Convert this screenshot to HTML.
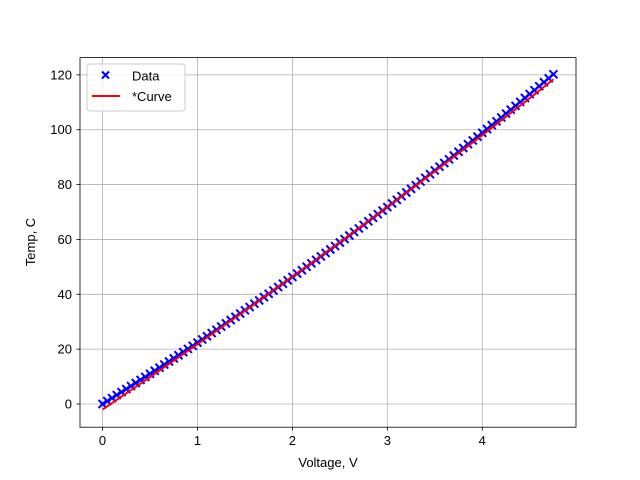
<!DOCTYPE html>
<html><head><meta charset="utf-8"><style>
body{margin:0;background:#fff}
svg{display:block;font-family:"Liberation Sans","DejaVu Sans",sans-serif}
</style></head><body>
<svg id="chart" width="640" height="480" viewBox="0 0 640 480">
<rect width="640" height="480" fill="#fff"/>
<g id="grid"></g>
<g id="series"></g>
<rect x="80" y="57.6" width="496" height="369.6" fill="none" stroke="#000" stroke-width="0.8"/>
<g id="ticks"></g>
<text x="328" y="467" font-size="13" text-anchor="middle">Voltage, V</text>
<text x="35" y="242" font-size="13" text-anchor="middle" transform="rotate(-90 35 242)">Temp, C</text>
<g>
<rect x="87" y="64" width="98" height="47" rx="3" fill="#fff" fill-opacity="0.8" stroke="#ccc" stroke-width="1"/>
<g>
<path d="M102 71.5l7 7M109 71.5l-7 7" stroke="#00f" stroke-width="2"/>
<text x="132" y="80.5" font-size="13">Data</text>
</g>
<g>
<line x1="92" y1="96" x2="120" y2="96" stroke="#f00" stroke-width="2"/>
<text x="132" y="101" font-size="13">*Curve</text>
</g>
</g>
</svg>
<script>
const dataX=[0,0.05,0.1,0.15,0.2,0.25,0.3,0.35,0.4,0.45,0.5,0.55,0.6,0.65,0.7,0.75,0.8,0.85,0.9,0.95,1,1.05,1.1,1.15,1.2,1.25,1.3,1.35,1.4,1.45,1.5,1.55,1.6,1.65,1.7,1.75,1.8,1.85,1.9,1.95,2,2.05,2.1,2.15,2.2,2.25,2.3,2.35,2.4,2.45,2.5,2.55,2.6,2.65,2.7,2.75,2.8,2.85,2.9,2.95,3,3.05,3.1,3.15,3.2,3.25,3.3,3.35,3.4,3.45,3.5,3.55,3.6,3.65,3.7,3.75,3.8,3.85,3.9,3.95,4,4.05,4.1,4.15,4.2,4.25,4.3,4.35,4.4,4.45,4.5,4.55,4.6,4.65,4.7,4.75];
const dataY=[0,1.08,2.17,3.26,4.35,5.45,6.55,7.66,8.77,9.88,11.0,12.12,13.24,14.37,15.5,16.64,17.78,18.92,20.07,21.22,22.38,23.54,24.7,25.87,27.04,28.22,29.4,30.58,31.77,32.96,34.16,35.35,36.56,37.76,38.97,40.19,41.41,42.63,43.86,45.09,46.32,47.56,48.8,50.05,51.3,52.55,53.81,55.07,56.33,57.6,58.88,60.15,61.43,62.72,64.01,65.3,66.6,67.9,69.2,70.51,71.82,73.14,74.46,75.78,77.11,78.44,79.77,81.11,82.46,83.8,85.16,86.51,87.87,89.23,90.6,91.97,93.34,94.72,96.1,97.49,98.88,100.27,101.67,103.07,104.48,105.89,107.3,108.72,110.14,111.57,113,114.43,115.87,117.31,118.75,120.2];
const curveX=[0,0.5,1,1.5,2,2.5,3,3.5,4,4.5,4.75];
const curveY=[-2,9.8,21.8,34.0,46.4,59.0,71.8,84.8,98.0,111.5,118.4];
const xTicks=[0,1,2,3,4];
const yTicks=[0,20,40,60,80,100,120];
const NS="http://www.w3.org/2000/svg";
const xmin=-0.2375,xmax=4.9875,ymin=-8.46,ymax=126.3;
const X=v=>80+(v-xmin)/(xmax-xmin)*496;
const Y=v=>427.2-(v-ymin)/(ymax-ymin)*369.6;
function mk(t,a,p){const e=document.createElementNS(NS,t);for(const k in a)e.setAttribute(k,a[k]);p.appendChild(e);return e;}
const grid=document.getElementById('grid'),ticks=document.getElementById('ticks'),ser=document.getElementById('series');
xTicks.forEach(t=>{const x=X(t);
const g=mk('line',{x1:x,x2:x,y1:57.6,y2:427.2,stroke:'#b0b0b0','stroke-width':0.8},grid);


mk('line',{x1:x,x2:x,y1:427.2,y2:430.7,stroke:'#000','stroke-width':0.8},ticks);
const l=mk('text',{x:x,y:445,'font-size':13,'text-anchor':'middle'},ticks);l.textContent=t;

});
yTicks.forEach(t=>{const y=Y(t);
const g=mk('line',{x1:80,x2:576,y1:y,y2:y,stroke:'#b0b0b0','stroke-width':0.8},grid);


mk('line',{x1:76.5,x2:80,y1:y,y2:y,stroke:'#000','stroke-width':0.8},ticks);
const l=mk('text',{x:72,y:y+4.5,'font-size':13,'text-anchor':'end'},ticks);l.textContent=t;

});
dataX.forEach((v,i)=>{const x=X(v),y=Y(dataY[i]);
const m=mk('path',{d:`M${x-4} ${y-4}l8 8M${x+4} ${y-4}l-8 8`,stroke:'#00f','stroke-width':2},ser);

});
const c=mk('polyline',{points:curveX.map((v,i)=>X(v)+','+Y(curveY[i])).join(' '),fill:'none',stroke:'#f00','stroke-width':2},ser);


</script>
</body></html>
